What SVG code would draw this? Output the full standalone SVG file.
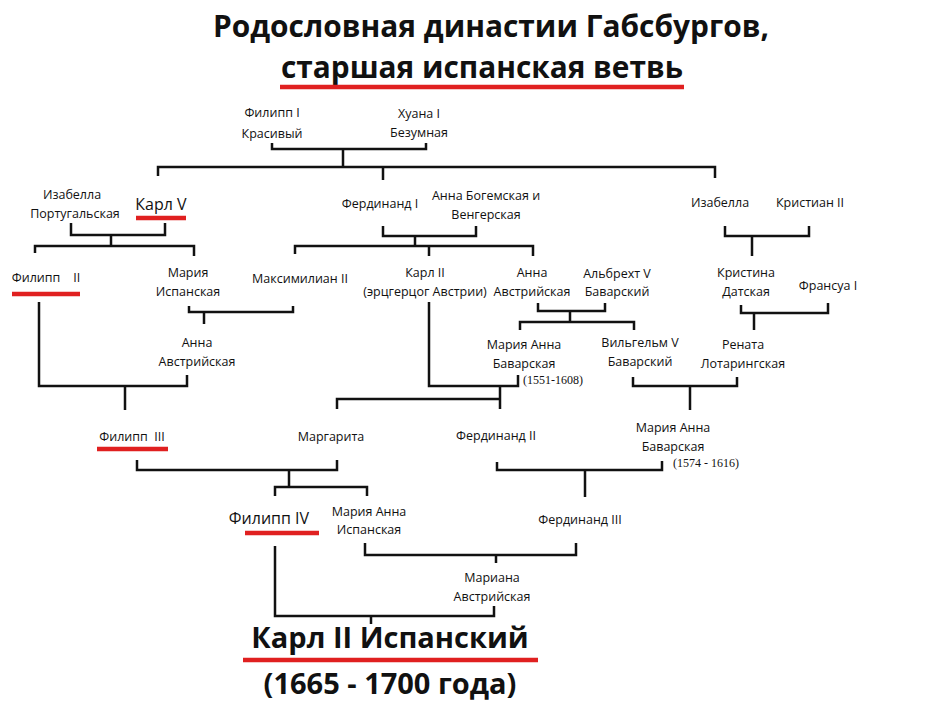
<svg xmlns="http://www.w3.org/2000/svg" width="932" height="706" viewBox="0 0 932 706">
<style>
text{font-family:"Open Sans","Liberation Sans",sans-serif;font-size:12.5px;fill:#111;text-anchor:middle;white-space:pre}
.t{font-weight:bold;font-size:29.5px}
.big{font-weight:bold;font-size:29px}
.m{font-size:16px}
.d{font-family:"Liberation Serif",serif;font-size:12px;text-anchor:start}
.l{fill:none;stroke:#111;stroke-width:2.5}
.r{stroke:#e02020;stroke-width:4.5}
</style>
<rect width="932" height="706" fill="#fff"/>
<g id="title">
<text class="t" x="491" y="37" textLength="556" lengthAdjust="spacingAndGlyphs">Родословная династии Габсбургов,</text>
<text class="t" x="482" y="78" textLength="402" lengthAdjust="spacingAndGlyphs">старшая испанская ветвь</text>
<line class="r" x1="280" y1="87" x2="684" y2="87"/>
</g>
<g id="connectors" class="l">
<path d="M272 143V149H426V143M343 149V167M158 176V167H715V178M383 167V180"/>
<path d="M71 223V235H165V223M111 235V246M35 253V246H194V256"/>
<path d="M383 226V236H476V226M415 236V246M295 254V246H533V256M429 246V256"/>
<path d="M189 306V312H293V306M204 312V324"/>
<path d="M39 302V386H187V375M125 386V410"/>
<path d="M429 302V386H518V375"/>
<path d="M538 303V311H605V303M570 311V322M520 330V322H634V330"/>
<path d="M633 377V386H737V377M690 386V410"/>
<path d="M725 226V236H809V226M752 236V256"/>
<path d="M741 305V313H828V303M754 313V330"/>
<path d="M337 409V399H500V386M500 399V409"/>
<path d="M137 460V470H337V460M289 470V487M275 496V487H367V496"/>
<path d="M497 462V470H662V461M585 470V497"/>
<path d="M365 543V555H576V543M496 555V563"/>
<path d="M275 546V616H494V606M371 616V624"/>
</g>
<g id="n-filipp1"><text x="272" y="117">Филипп I</text><text x="272" y="138">Красивый</text></g>
<g id="n-huana"><text x="419" y="118">Хуана I</text><text x="419" y="137">Безумная</text></g>
<g id="n-izabella-p"><text x="72" y="199">Изабелла</text><text x="75" y="218">Португальская</text></g>
<g id="n-karl5"><text class="m" x="161" y="210">Карл V</text><line class="r" x1="136" y1="218" x2="186" y2="218"/></g>
<g id="n-ferd1"><text x="380" y="208">Фердинанд I</text></g>
<g id="n-anna-b"><text x="486" y="200">Анна Богемская и</text><text x="486" y="219">Венгерская</text></g>
<g id="n-izabella"><text x="720" y="207">Изабелла</text></g>
<g id="n-kristian"><text x="810" y="207">Кристиан II</text></g>
<g id="n-filipp2"><text x="46" y="282">Филипп    II</text><line class="r" x1="12" y1="294" x2="80" y2="294"/></g>
<g id="n-maria-i"><text x="188" y="277">Мария</text><text x="188" y="296">Испанская</text></g>
<g id="n-maks"><text x="300" y="283">Максимилиан II</text></g>
<g id="n-karl2a"><text x="425" y="277">Карл II</text><text x="425" y="296">(эрцгерцог Австрии)</text></g>
<g id="n-anna-a"><text x="532" y="277">Анна</text><text x="532" y="296">Австрийская</text></g>
<g id="n-albreht"><text x="617" y="278">Альбрехт V</text><text x="617" y="296">Баварский</text></g>
<g id="n-kristina"><text x="746" y="277">Кристина</text><text x="746" y="296">Датская</text></g>
<g id="n-fransua"><text x="828" y="290">Франсуа I</text></g>
<g id="n-anna-a2"><text x="197" y="347">Анна</text><text x="197" y="366">Австрийская</text></g>
<g id="n-maria-b1"><text x="524" y="349">Мария Анна</text><text x="524" y="368">Баварская</text><text class="d" x="523" y="384">(1551-1608)</text></g>
<g id="n-vilgelm"><text x="640" y="347">Вильгельм V</text><text x="640" y="366">Баварский</text></g>
<g id="n-renata"><text x="743" y="349">Рената</text><text x="743" y="368">Лотарингская</text></g>
<g id="n-filipp3"><text x="132" y="441">Филипп  III</text><line class="r" x1="97" y1="449" x2="168" y2="449"/></g>
<g id="n-margarita"><text x="331" y="441">Маргарита</text></g>
<g id="n-ferd2"><text x="496" y="440">Фердинанд II</text></g>
<g id="n-maria-b2"><text x="673" y="432">Мария Анна</text><text x="673" y="451">Баварская</text><text class="d" x="673" y="467">(1574 - 1616)</text></g>
<g id="n-filipp4"><text class="m" x="269" y="524">Филипп IV</text><line class="r" x1="245" y1="533" x2="319" y2="533"/></g>
<g id="n-maria-i2"><text x="369" y="516">Мария Анна</text><text x="369" y="534">Испанская</text></g>
<g id="n-ferd3"><text x="580" y="524">Фердинанд III</text></g>
<g id="n-mariana"><text x="492" y="582">Мариана</text><text x="492" y="601">Австрийская</text></g>
<g id="n-karl2"><text class="big" x="390" y="648">Карл II Испанский</text><line class="r" x1="243" y1="660" x2="538" y2="660"/><text class="big" x="390" y="694">(1665 - 1700 года)</text></g>
</svg>
